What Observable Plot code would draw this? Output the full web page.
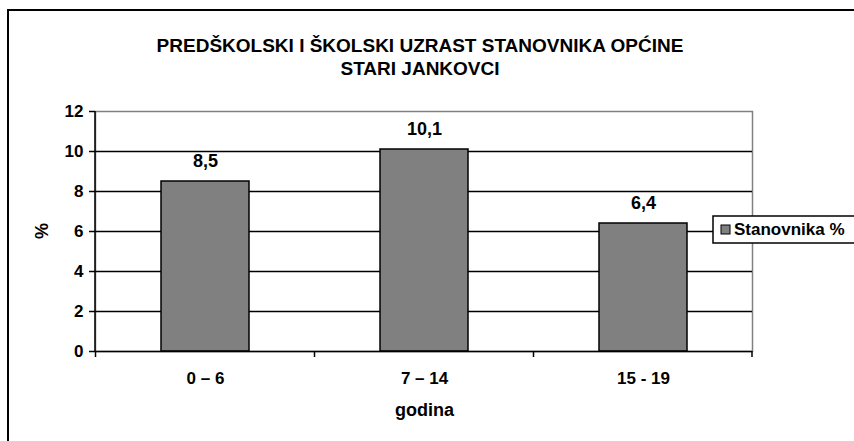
<!DOCTYPE html>
<html><head><meta charset="utf-8">
<script src="https://cdn.jsdelivr.net/npm/d3@7"></script>
<script src="https://cdn.jsdelivr.net/npm/@observablehq/plot@0.6"></script>
<style>body{margin:0;background:#fff;} svg{display:block;}</style>
</head><body><div id="chart"></div>
<script>
const categories = ["0 – 6", "7 – 14", "15 - 19"];
const values = [8.5, 10.1, 6.4];
const valueLabels = ["8,5", "10,1", "6,4"];
const yTicks = [0, 2, 4, 6, 8, 10, 12];
const gridTicks = [2, 4, 6, 8, 10];
const titleLines = ["PREDŠKOLSKI I ŠKOLSKI UZRAST STANOVNIKA OPĆINE", "STARI JANKOVCI"];
const seriesName = "Stanovnika %";
const xLabel = "godina";
const yLabel = "%";

const data = categories.map((c, i) => ({cat: c, value: values[i], label: valueLabels[i]}));
const font = "Arial, 'Liberation Sans', sans-serif";

const chart = Plot.plot({
  width: 854, height: 441,
  marginTop: 111, marginLeft: 95, marginRight: 102, marginBottom: 90,
  style: {fontFamily: font, fontSize: "17px", fontWeight: "bold", color: "black", background: "white"},
  x: {domain: categories, paddingInner: 0.6, paddingOuter: 0.3, label: null},
  y: {domain: [0, 12], label: null},
  marks: [
    Plot.frame({stroke: "#808080", strokeWidth: 1.5}),
    Plot.gridY(gridTicks, {stroke: "black", strokeOpacity: 1, strokeWidth: 1.5}),
    Plot.barY(data, {x: "cat", y: "value", fill: "#808080", stroke: "black", strokeWidth: 1.5}),
    Plot.text(data, {x: "cat", y: "value", text: "label", dy: -20, fontSize: 18, fontWeight: "bold"}),
    Plot.ruleY([0], {stroke: "black", strokeWidth: 1.5}),
    Plot.axisY(yTicks, {tickSize: 6, tickPadding: 6, fontSize: 17, label: null, strokeWidth: 1.5}),
    Plot.axisX({tickSize: 0, tickPadding: 20, fontSize: 17, label: null})
  ]
});
document.getElementById("chart").appendChild(chart);

const svg = d3.select(chart);
const xs = chart.scale("x"), ys = chart.scale("y");
const left = xs.range[0], right = xs.range[1];
const y0 = ys.apply(0), yTop = ys.apply(12);

// left axis line
svg.append("line").attr("x1", left).attr("x2", left).attr("y1", y0).attr("y2", yTop)
  .attr("stroke", "black").attr("stroke-width", 1.5);
// category boundary ticks
const bounds = categories.map(c => xs.apply(c) + xs.bandwidth / 2 - xs.step / 2);
bounds.push(right);
svg.append("g").selectAll("line").data(bounds).join("line")
  .attr("x1", d => d).attr("x2", d => d).attr("y1", y0).attr("y2", y0 + 6)
  .attr("stroke", "black").attr("stroke-width", 1.5);

// outer border
svg.append("rect").attr("x", 8).attr("y", 10).attr("width", 900).attr("height", 500)
  .attr("fill", "none").attr("stroke", "black").attr("stroke-width", 2);

// title
const tg = svg.append("text").attr("text-anchor", "middle")
  .attr("font-family", font).attr("font-size", 19).attr("font-weight", "bold");
tg.selectAll("tspan").data(titleLines).join("tspan")
  .attr("x", 420).attr("y", (d, i) => i === 0 ? 45 : 68).attr("dy", "0.35em").text(d => d);

// axis titles
svg.append("text").attr("transform", `translate(42,${(y0 + yTop) / 2}) rotate(-90)`)
  .attr("text-anchor", "middle").attr("dy", "0.35em")
  .attr("font-family", font).attr("font-size", 18).attr("font-weight", "bold").text(yLabel);
svg.append("text").attr("x", (left + right) / 2 + 1).attr("y", 410).attr("dy", "0.35em")
  .attr("text-anchor", "middle")
  .attr("font-family", font).attr("font-size", 18).attr("font-weight", "bold").text(xLabel);

// legend
const lg = svg.append("g");
lg.append("rect").attr("x", 713).attr("y", 216).attr("width", 200).attr("height", 27)
  .attr("fill", "white").attr("stroke", "black").attr("stroke-width", 1.5);
lg.append("rect").attr("x", 721).attr("y", 225).attr("width", 9).attr("height", 9)
  .attr("fill", "#808080").attr("stroke", "black").attr("stroke-width", 1);
lg.append("text").attr("x", 734).attr("y", 229.5).attr("dy", "0.35em").attr("text-anchor", "start")
  .attr("font-family", font).attr("font-size", 17).attr("font-weight", "bold").text(seriesName);
</script>
</body></html>
